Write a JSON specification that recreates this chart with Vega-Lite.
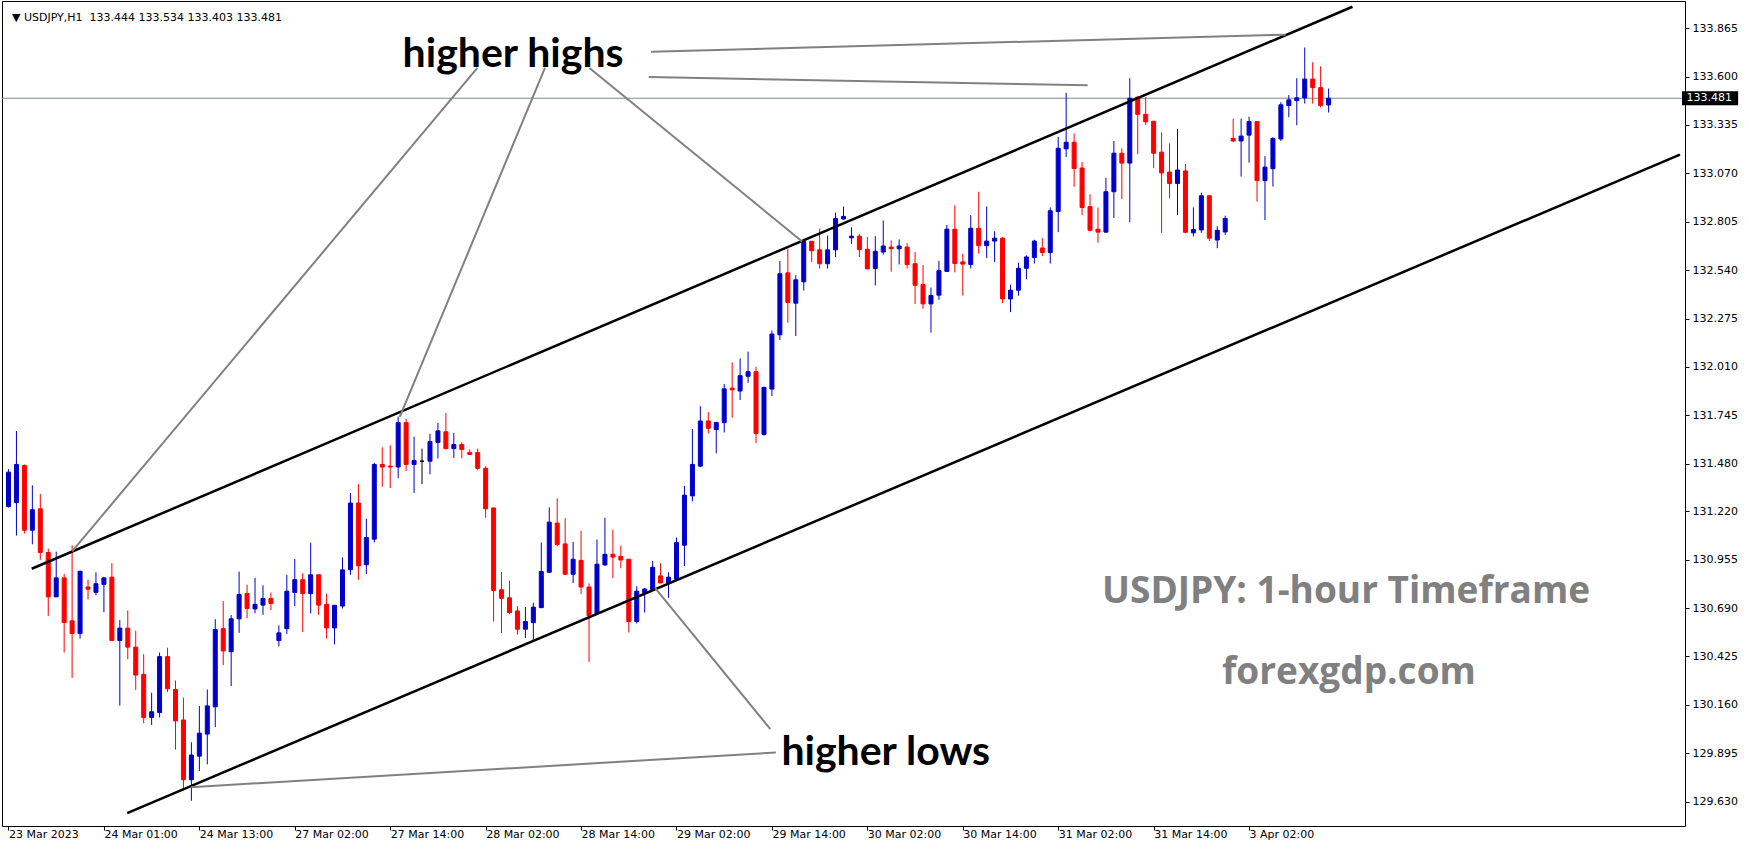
{
  "$schema": "https://vega.github.io/schema/vega-lite/v6.json",
  "width": 1683,
  "height": 825,
  "autosize": {"type": "none"},
  "padding": {"left": 2, "top": 1, "right": 64, "bottom": 24},
  "background": "white",
  "config": {"view": {"stroke": "black", "strokeWidth": 1}},
  "resolve": {"axis": {"x": "independent", "y": "independent"}},
  "datasets": {
    "candles": [
      {"i":0,"o":131.246,"h":131.45,"l":131.24,"c":131.434},
      {"i":1,"o":131.267,"h":131.659,"l":131.087,"c":131.476},
      {"i":2,"o":131.47,"h":131.476,"l":131.098,"c":131.116},
      {"i":3,"o":131.116,"h":131.362,"l":131.039,"c":131.228},
      {"i":4,"o":131.233,"h":131.314,"l":130.954,"c":130.994},
      {"i":5,"o":130.994,"h":131.015,"l":130.647,"c":130.751},
      {"i":6,"o":130.751,"h":130.999,"l":130.751,"c":130.855},
      {"i":7,"o":130.855,"h":130.877,"l":130.446,"c":130.611},
      {"i":8,"o":130.62,"h":131.033,"l":130.307,"c":130.55},
      {"i":9,"o":130.55,"h":130.895,"l":130.523,"c":130.891},
      {"i":10,"o":130.805,"h":130.845,"l":130.737,"c":130.793},
      {"i":11,"o":130.776,"h":130.886,"l":130.76,"c":130.823},
      {"i":12,"o":130.819,"h":130.86,"l":130.667,"c":130.855},
      {"i":13,"o":130.859,"h":130.936,"l":130.512,"c":130.512},
      {"i":14,"o":130.512,"h":130.624,"l":130.156,"c":130.58},
      {"i":15,"o":130.58,"h":130.677,"l":130.41,"c":130.476},
      {"i":16,"o":130.476,"h":130.566,"l":130.242,"c":130.323},
      {"i":17,"o":130.327,"h":130.437,"l":130.059,"c":130.091},
      {"i":18,"o":130.091,"h":130.226,"l":130.05,"c":130.122},
      {"i":19,"o":130.118,"h":130.446,"l":130.091,"c":130.424},
      {"i":20,"o":130.424,"h":130.473,"l":130.23,"c":130.248},
      {"i":21,"o":130.244,"h":130.293,"l":129.915,"c":130.072},
      {"i":22,"o":130.077,"h":130.199,"l":129.69,"c":129.75},
      {"i":23,"o":129.75,"h":129.955,"l":129.635,"c":129.885},
      {"i":24,"o":129.879,"h":130.154,"l":129.798,"c":130.005},
      {"i":25,"o":130.0,"h":130.244,"l":129.834,"c":130.154},
      {"i":26,"o":130.149,"h":130.629,"l":130.038,"c":130.572},
      {"i":27,"o":130.577,"h":130.728,"l":130.377,"c":130.455},
      {"i":28,"o":130.451,"h":130.652,"l":130.262,"c":130.631},
      {"i":29,"o":130.631,"h":130.89,"l":130.554,"c":130.764},
      {"i":30,"o":130.769,"h":130.818,"l":130.634,"c":130.688},
      {"i":31,"o":130.685,"h":130.856,"l":130.661,"c":130.71},
      {"i":32,"o":130.706,"h":130.814,"l":130.652,"c":130.742},
      {"i":33,"o":130.742,"h":130.775,"l":130.679,"c":130.715},
      {"i":34,"o":130.512,"h":130.595,"l":130.48,"c":130.554},
      {"i":35,"o":130.577,"h":130.872,"l":130.548,"c":130.782},
      {"i":36,"o":130.775,"h":130.958,"l":130.701,"c":130.845},
      {"i":37,"o":130.845,"h":130.881,"l":130.559,"c":130.769},
      {"i":38,"o":130.769,"h":131.048,"l":130.661,"c":130.872},
      {"i":39,"o":130.872,"h":130.872,"l":130.652,"c":130.706},
      {"i":40,"o":130.71,"h":130.769,"l":130.523,"c":130.581},
      {"i":41,"o":130.581,"h":130.705,"l":130.491,"c":130.705},
      {"i":42,"o":130.701,"h":130.967,"l":130.688,"c":130.899},
      {"i":43,"o":130.9,"h":131.32,"l":130.872,"c":131.265},
      {"i":44,"o":131.265,"h":131.368,"l":130.845,"c":130.921},
      {"i":45,"o":130.927,"h":131.179,"l":130.876,"c":131.076},
      {"i":46,"o":131.067,"h":131.485,"l":131.049,"c":131.476},
      {"i":47,"o":131.476,"h":131.57,"l":131.354,"c":131.462},
      {"i":48,"o":131.467,"h":131.581,"l":131.347,"c":131.462},
      {"i":49,"o":131.462,"h":131.738,"l":131.401,"c":131.705},
      {"i":50,"o":131.705,"h":131.725,"l":131.44,"c":131.476},
      {"i":51,"o":131.476,"h":131.628,"l":131.32,"c":131.498},
      {"i":52,"o":131.494,"h":131.563,"l":131.368,"c":131.494},
      {"i":53,"o":131.494,"h":131.644,"l":131.422,"c":131.601},
      {"i":54,"o":131.597,"h":131.704,"l":131.509,"c":131.66},
      {"i":55,"o":131.655,"h":131.758,"l":131.558,"c":131.563},
      {"i":56,"o":131.563,"h":131.648,"l":131.512,"c":131.585},
      {"i":57,"o":131.585,"h":131.597,"l":131.509,"c":131.558},
      {"i":58,"o":131.541,"h":131.558,"l":131.527,"c":131.531},
      {"i":59,"o":131.541,"h":131.563,"l":131.444,"c":131.455},
      {"i":60,"o":131.455,"h":131.467,"l":131.184,"c":131.233},
      {"i":61,"o":131.238,"h":131.238,"l":130.616,"c":130.786},
      {"i":62,"o":130.79,"h":130.887,"l":130.553,"c":130.743},
      {"i":63,"o":130.746,"h":130.84,"l":130.656,"c":130.665},
      {"i":64,"o":130.674,"h":130.701,"l":130.544,"c":130.574},
      {"i":65,"o":130.574,"h":130.695,"l":130.526,"c":130.616},
      {"i":66,"o":130.61,"h":130.719,"l":130.515,"c":130.695},
      {"i":67,"o":130.692,"h":131.049,"l":130.692,"c":130.89},
      {"i":68,"o":130.886,"h":131.241,"l":130.881,"c":131.16},
      {"i":69,"o":131.155,"h":131.29,"l":131.029,"c":131.038},
      {"i":70,"o":131.041,"h":131.182,"l":130.872,"c":130.875},
      {"i":71,"o":130.875,"h":131.052,"l":130.827,"c":130.957},
      {"i":72,"o":130.951,"h":131.113,"l":130.767,"c":130.805},
      {"i":73,"o":130.805,"h":130.825,"l":130.394,"c":130.647},
      {"i":74,"o":130.659,"h":131.065,"l":130.659,"c":130.93},
      {"i":75,"o":130.926,"h":131.184,"l":130.921,"c":130.984},
      {"i":76,"o":130.984,"h":131.119,"l":130.854,"c":130.969},
      {"i":77,"o":130.973,"h":131.032,"l":130.908,"c":130.953},
      {"i":78,"o":130.957,"h":130.959,"l":130.556,"c":130.616},
      {"i":79,"o":130.616,"h":130.809,"l":130.605,"c":130.782},
      {"i":80,"o":130.773,"h":130.8,"l":130.665,"c":130.794},
      {"i":81,"o":130.791,"h":130.948,"l":130.791,"c":130.913},
      {"i":82,"o":130.866,"h":130.935,"l":130.827,"c":130.827},
      {"i":83,"o":130.827,"h":130.886,"l":130.746,"c":130.859},
      {"i":84,"o":130.848,"h":131.076,"l":130.845,"c":131.048},
      {"i":85,"o":131.034,"h":131.359,"l":130.92,"c":131.308},
      {"i":86,"o":131.304,"h":131.67,"l":131.274,"c":131.476},
      {"i":87,"o":131.467,"h":131.795,"l":131.461,"c":131.714},
      {"i":88,"o":131.714,"h":131.762,"l":131.645,"c":131.674},
      {"i":89,"o":131.667,"h":131.706,"l":131.537,"c":131.706},
      {"i":90,"o":131.705,"h":131.917,"l":131.651,"c":131.89},
      {"i":91,"o":131.894,"h":132.035,"l":131.732,"c":131.885},
      {"i":92,"o":131.878,"h":132.056,"l":131.829,"c":131.962},
      {"i":93,"o":131.959,"h":132.094,"l":131.923,"c":131.984},
      {"i":94,"o":131.984,"h":132.011,"l":131.593,"c":131.645},
      {"i":95,"o":131.64,"h":131.902,"l":131.634,"c":131.898},
      {"i":96,"o":131.889,"h":132.209,"l":131.851,"c":132.19},
      {"i":97,"o":132.186,"h":132.59,"l":132.157,"c":132.52},
      {"i":98,"o":132.525,"h":132.657,"l":132.251,"c":132.363},
      {"i":99,"o":132.359,"h":132.512,"l":132.179,"c":132.487},
      {"i":100,"o":132.476,"h":132.711,"l":132.428,"c":132.698},
      {"i":101,"o":132.698,"h":132.698,"l":132.584,"c":132.646},
      {"i":102,"o":132.651,"h":132.768,"l":132.548,"c":132.575},
      {"i":103,"o":132.575,"h":132.729,"l":132.548,"c":132.651},
      {"i":104,"o":132.651,"h":132.855,"l":132.611,"c":132.822},
      {"i":105,"o":132.82,"h":132.888,"l":132.816,"c":132.834},
      {"i":106,"o":132.717,"h":132.775,"l":132.684,"c":132.726},
      {"i":107,"o":132.726,"h":132.739,"l":132.612,"c":132.652},
      {"i":108,"o":132.654,"h":132.721,"l":132.544,"c":132.547},
      {"i":109,"o":132.549,"h":132.726,"l":132.456,"c":132.643},
      {"i":110,"o":132.639,"h":132.812,"l":132.625,"c":132.672},
      {"i":111,"o":132.666,"h":132.703,"l":132.531,"c":132.657},
      {"i":112,"o":132.657,"h":132.708,"l":132.571,"c":132.672},
      {"i":113,"o":132.666,"h":132.688,"l":132.549,"c":132.571},
      {"i":114,"o":132.575,"h":132.639,"l":132.355,"c":132.457},
      {"i":115,"o":132.461,"h":132.567,"l":132.329,"c":132.355},
      {"i":116,"o":132.355,"h":132.445,"l":132.198,"c":132.401},
      {"i":117,"o":132.403,"h":132.591,"l":132.378,"c":132.537},
      {"i":118,"o":132.533,"h":132.787,"l":132.531,"c":132.764},
      {"i":119,"o":132.764,"h":132.895,"l":132.528,"c":132.576},
      {"i":120,"o":132.585,"h":132.63,"l":132.401,"c":132.573},
      {"i":121,"o":132.571,"h":132.841,"l":132.549,"c":132.769},
      {"i":122,"o":132.769,"h":132.969,"l":132.63,"c":132.674},
      {"i":123,"o":132.674,"h":132.888,"l":132.607,"c":132.699},
      {"i":124,"o":132.699,"h":132.753,"l":132.585,"c":132.715},
      {"i":125,"o":132.715,"h":132.72,"l":132.36,"c":132.382},
      {"i":126,"o":132.382,"h":132.46,"l":132.31,"c":132.43},
      {"i":127,"o":132.43,"h":132.58,"l":132.4,"c":132.55},
      {"i":128,"o":132.55,"h":132.621,"l":132.49,"c":132.612},
      {"i":129,"o":132.609,"h":132.706,"l":132.576,"c":132.699},
      {"i":130,"o":132.661,"h":132.715,"l":132.616,"c":132.636},
      {"i":131,"o":132.636,"h":132.883,"l":132.576,"c":132.865},
      {"i":132,"o":132.861,"h":133.27,"l":132.748,"c":133.207},
      {"i":133,"o":133.204,"h":133.51,"l":133.159,"c":133.24},
      {"i":134,"o":133.24,"h":133.288,"l":132.996,"c":133.096},
      {"i":135,"o":133.099,"h":133.132,"l":132.841,"c":132.883},
      {"i":136,"o":132.888,"h":132.955,"l":132.753,"c":132.758},
      {"i":137,"o":132.764,"h":132.883,"l":132.69,"c":132.748},
      {"i":138,"o":132.748,"h":133.045,"l":132.744,"c":132.969},
      {"i":139,"o":132.969,"h":133.247,"l":132.825,"c":133.18},
      {"i":140,"o":133.18,"h":133.207,"l":132.928,"c":133.126},
      {"i":141,"o":133.126,"h":133.591,"l":132.802,"c":133.481},
      {"i":142,"o":133.487,"h":133.49,"l":133.175,"c":133.393},
      {"i":143,"o":133.393,"h":133.487,"l":133.334,"c":133.352},
      {"i":144,"o":133.355,"h":133.355,"l":133.099,"c":133.18},
      {"i":145,"o":133.186,"h":133.294,"l":132.744,"c":133.072},
      {"i":146,"o":133.077,"h":133.234,"l":132.933,"c":133.014},
      {"i":147,"o":133.014,"h":133.312,"l":132.841,"c":133.088},
      {"i":148,"o":133.083,"h":133.121,"l":132.742,"c":132.747},
      {"i":149,"o":132.744,"h":132.883,"l":132.724,"c":132.762},
      {"i":150,"o":132.76,"h":132.964,"l":132.744,"c":132.947},
      {"i":151,"o":132.947,"h":132.95,"l":132.7,"c":132.715},
      {"i":152,"o":132.705,"h":132.78,"l":132.66,"c":132.758},
      {"i":153,"o":132.749,"h":132.838,"l":132.733,"c":132.823},
      {"i":154,"o":133.261,"h":133.369,"l":133.241,"c":133.247},
      {"i":155,"o":133.247,"h":133.369,"l":133.052,"c":133.274},
      {"i":156,"o":133.279,"h":133.38,"l":133.128,"c":133.353},
      {"i":157,"o":133.353,"h":133.353,"l":132.915,"c":133.03},
      {"i":158,"o":133.03,"h":133.164,"l":132.814,"c":133.104},
      {"i":159,"o":133.095,"h":133.268,"l":132.998,"c":133.261},
      {"i":160,"o":133.258,"h":133.459,"l":133.247,"c":133.445},
      {"i":161,"o":133.441,"h":133.499,"l":133.377,"c":133.472},
      {"i":162,"o":133.468,"h":133.591,"l":133.333,"c":133.483},
      {"i":163,"o":133.483,"h":133.759,"l":133.452,"c":133.586},
      {"i":164,"o":133.586,"h":133.678,"l":133.452,"c":133.539},
      {"i":165,"o":133.539,"h":133.656,"l":133.431,"c":133.441},
      {"i":166,"o":133.444,"h":133.534,"l":133.403,"c":133.481}
    ],
    "channel": [
      {"x1":2.925,"p1":130.905,"x2":169.0,"p2":133.982},
      {"x1":14.925,"p1":129.567,"x2":210.18,"p2":133.172}
    ],
    "pointers": [
      {"x1":58.96,"p1":133.647,"x2":8.0,"p2":131.0},
      {"x1":67.46,"p1":133.647,"x2":49.2,"p2":131.737},
      {"x1":73.05,"p1":133.647,"x2":99.8,"p2":132.697},
      {"x1":80.8,"p1":133.736,"x2":160.6,"p2":133.829},
      {"x1":80.5,"p1":133.597,"x2":135.7,"p2":133.552},
      {"x1":96.5,"p1":129.899,"x2":22.9,"p2":129.709},
      {"x1":95.8,"p1":130.027,"x2":81.3,"p2":130.8}
    ],
    "bigLabels": [
      {"i":49.56,"p":133.652,"t":"higher highs"},
      {"i":97.19,"p":129.832,"t":"higher lows"}
    ],
    "siteLabels": [
      {"i":168.2,"p":130.719,"t":"USDJPY: 1-hour Timeframe"},
      {"i":168.56,"p":130.275,"t":"forexgdp.com"}
    ],
    "header": [
      {"i":0.44,"p":133.902,"t":"▼ USDJPY,H1\u00a0 133.444 133.534 133.403 133.481"}
    ],
    "last": [
      {"p":133.481,"t":"133.481"}
    ]
  },
  "layer": [
    {
      "data": {"name": "last"},
      "mark": {"type": "rule", "color": "#7a8a99", "strokeWidth": 1},
      "encoding": {
        "y": {"field": "p", "type": "quantitative", "scale": {"domain": [129.524, 133.986], "nice": false, "zero": false}, "axis": null}
      }
    },
    {
      "data": {"name": "candles"},
      "mark": {"type": "rule", "strokeWidth": 1, "clip": true},
      "encoding": {
        "x": {"field": "i", "type": "quantitative", "scale": {"domain": [-0.1875, 210.1875], "nice": false, "zero": false},
          "axis": {"orient": "bottom", "title": null, "grid": false, "domain": false,
            "values": [0,12,24,36,48,60,72,84,96,108,120,132,144,156],
            "labelExpr": "['23 Mar 2023','24 Mar 01:00','24 Mar 13:00','27 Mar 02:00','27 Mar 14:00','28 Mar 02:00','28 Mar 14:00','29 Mar 02:00','29 Mar 14:00','30 Mar 02:00','30 Mar 14:00','31 Mar 02:00','31 Mar 14:00','3 Apr 02:00'][round(datum.value/12)]",
            "labelAlign": "left", "labelBaseline": "top", "labelPadding": -2, "tickSize": 4, "tickColor": "black",
            "labelFont": "DejaVu Sans", "labelFontSize": 11, "labelColor": "black",
            "labelOverlap": false, "labelFlush": false, "labelBound": false}},
        "y": {"field": "l", "type": "quantitative", "scale": {"domain": [129.524, 133.986], "nice": false, "zero": false},
          "axis": {"orient": "right", "title": null, "grid": false, "domain": false,
            "values": [129.63,129.895,130.16,130.425,130.69,130.955,131.22,131.48,131.745,132.01,132.275,132.54,132.805,133.07,133.335,133.6,133.865],
            "format": ".3f", "labelPadding": 3, "tickSize": 4, "tickColor": "black",
            "labelFont": "DejaVu Sans", "labelFontSize": 11, "labelColor": "black", "labelBaseline": "middle",
            "labelOverlap": false, "labelFlush": false, "labelBound": false}},
        "y2": {"field": "h"},
        "stroke": {"condition": [{"test": "datum.c > datum.o", "value": "#0000cc"}, {"test": "datum.c < datum.o", "value": "#ff0000"}], "value": "#000000"}
      }
    },
    {
      "data": {"name": "candles"},
      "mark": {"type": "bar", "size": 4, "strokeWidth": 1, "clip": true},
      "encoding": {
        "x": {"field": "i", "type": "quantitative", "scale": {"domain": [-0.1875, 210.1875], "nice": false, "zero": false}, "axis": null},
        "y": {"field": "o", "type": "quantitative", "scale": {"domain": [129.524, 133.986], "nice": false, "zero": false}, "axis": null},
        "y2": {"field": "c"},
        "fill": {"condition": [{"test": "datum.c > datum.o", "value": "#0000cc"}, {"test": "datum.c < datum.o", "value": "#ff0000"}], "value": "#000000"},
        "stroke": {"condition": [{"test": "datum.c > datum.o", "value": "#0000cc"}, {"test": "datum.c < datum.o", "value": "#ff0000"}], "value": "#000000"}
      }
    },
    {
      "data": {"name": "channel"},
      "mark": {"type": "rule", "color": "#000000", "strokeWidth": 2.5, "clip": true},
      "encoding": {
        "x": {"field": "x1", "type": "quantitative", "scale": {"domain": [-0.1875, 210.1875], "nice": false, "zero": false}, "axis": null},
        "x2": {"field": "x2"},
        "y": {"field": "p1", "type": "quantitative", "scale": {"domain": [129.524, 133.986], "nice": false, "zero": false}, "axis": null},
        "y2": {"field": "p2"}
      }
    },
    {
      "data": {"name": "pointers"},
      "mark": {"type": "rule", "color": "#808080", "strokeWidth": 2},
      "encoding": {
        "x": {"field": "x1", "type": "quantitative", "scale": {"domain": [-0.1875, 210.1875], "nice": false, "zero": false}, "axis": null},
        "x2": {"field": "x2"},
        "y": {"field": "p1", "type": "quantitative", "scale": {"domain": [129.524, 133.986], "nice": false, "zero": false}, "axis": null},
        "y2": {"field": "p2"}
      }
    },
    {
      "data": {"name": "bigLabels"},
      "mark": {"type": "text", "font": "Lato", "fontWeight": "bold", "fontSize": 41, "color": "#000000", "align": "left", "baseline": "alphabetic"},
      "encoding": {
        "x": {"field": "i", "type": "quantitative", "scale": {"domain": [-0.1875, 210.1875], "nice": false, "zero": false}, "axis": null},
        "y": {"field": "p", "type": "quantitative", "scale": {"domain": [129.524, 133.986], "nice": false, "zero": false}, "axis": null},
        "text": {"field": "t"}
      }
    },
    {
      "data": {"name": "siteLabels"},
      "mark": {"type": "text", "font": "Open Sans", "fontWeight": "bold", "fontSize": 37, "color": "#808080", "align": "center", "baseline": "alphabetic"},
      "encoding": {
        "x": {"field": "i", "type": "quantitative", "scale": {"domain": [-0.1875, 210.1875], "nice": false, "zero": false}, "axis": null},
        "y": {"field": "p", "type": "quantitative", "scale": {"domain": [129.524, 133.986], "nice": false, "zero": false}, "axis": null},
        "text": {"field": "t"}
      }
    },
    {
      "data": {"name": "header"},
      "mark": {"type": "text", "font": "DejaVu Sans", "fontSize": 11, "color": "#000000", "align": "left", "baseline": "alphabetic"},
      "encoding": {
        "x": {"field": "i", "type": "quantitative", "scale": {"domain": [-0.1875, 210.1875], "nice": false, "zero": false}, "axis": null},
        "y": {"field": "p", "type": "quantitative", "scale": {"domain": [129.524, 133.986], "nice": false, "zero": false}, "axis": null},
        "text": {"field": "t"}
      }
    },
    {
      "data": {"name": "last"},
      "mark": {"type": "bar", "size": 14, "color": "#000000"},
      "encoding": {
        "x": {"datum": 210.44, "type": "quantitative", "scale": {"domain": [-0.1875, 210.1875], "nice": false, "zero": false}, "axis": null},
        "x2": {"datum": 217.5},
        "y": {"field": "p", "type": "quantitative", "scale": {"domain": [129.524, 133.986], "nice": false, "zero": false}, "axis": null}
      }
    },
    {
      "data": {"name": "last"},
      "mark": {"type": "text", "font": "DejaVu Sans", "fontSize": 11, "color": "#ffffff", "align": "left", "baseline": "middle"},
      "encoding": {
        "x": {"datum": 211.0, "type": "quantitative", "scale": {"domain": [-0.1875, 210.1875], "nice": false, "zero": false}, "axis": null},
        "y": {"field": "p", "type": "quantitative", "scale": {"domain": [129.524, 133.986], "nice": false, "zero": false}, "axis": null},
        "text": {"field": "t"}
      }
    }
  ]
}
